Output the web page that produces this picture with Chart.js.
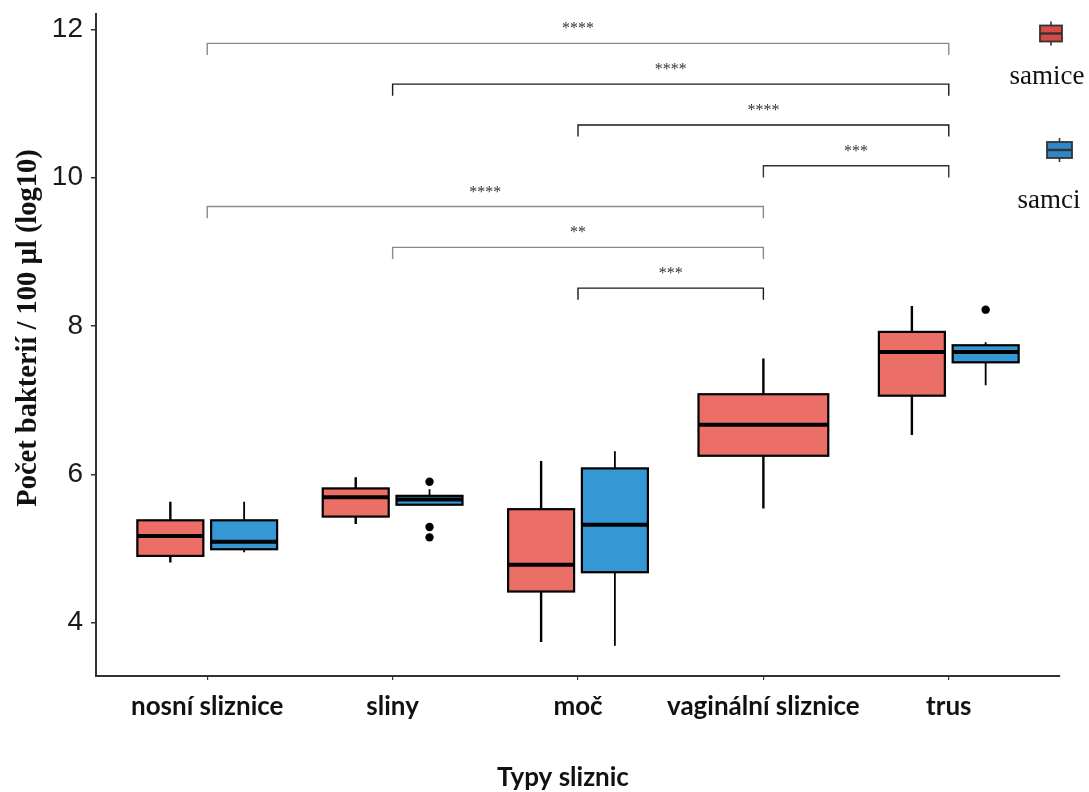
<!DOCTYPE html>
<html><head><meta charset="utf-8">
<script src="https://cdn.jsdelivr.net/npm/chart.js@4.4.1/dist/chart.umd.min.js"></script>
<style>html,body{margin:0;padding:0;background:#fff;}#wrap{width:1089px;height:792px;position:relative;}</style>
</head><body><div id="wrap"><canvas id="c"></canvas></div>
<script>
const categories = ['nosní sliznice', 'sliny', 'moč', 'vaginální sliznice', 'trus'];
const groups = ['samice', 'samci'];
// [lower whisker, Q1, median, Q3, upper whisker]
const samiceBoxes = [
  [4.81, 4.90, 5.17, 5.38, 5.63],
  [5.33, 5.43, 5.69, 5.81, 5.96],
  [3.74, 4.42, 4.78, 5.53, 6.18],
  [5.54, 6.25, 6.67, 7.08, 7.56],
  [6.53, 7.06, 7.65, 7.92, 8.27]
];
const samciBoxes = [
  [4.95, 4.99, 5.09, 5.38, 5.63],
  [5.59, 5.59, 5.66, 5.71, 5.80],
  [3.69, 4.68, 5.32, 6.08, 6.31],
  null,
  [7.20, 7.51, 7.65, 7.74, 7.78]
];
const samiceOutliers = [[], [], [], [], []];
const samciOutliers = [[], [5.90, 5.29, 5.15], [], [], [8.22]];
const yTicks = [4, 6, 8, 10, 12];
const comparisons = [[0, 4], [1, 4], [2, 4], [3, 4], [0, 3], [1, 3], [2, 3]];
const compLabels = ['****', '****', '****', '***', '****', '**', '***'];
const compY = [11.81, 11.26, 10.71, 10.16, 9.61, 9.06, 8.51];

const boxSets = [samiceBoxes, samciBoxes];
const outlierSets = [samiceOutliers, samciOutliers];
const FILL = ['#EB6E67', '#3598D4'];
const DODGE = 0.199, HALF_PAIR = 0.178, HALF_SINGLE = 0.35;

function boxPos(ci, gi) {
  const both = samiceBoxes[ci] && samciBoxes[ci];
  if (!both) return { c: ci, h: HALF_SINGLE };
  return { c: ci + (gi === 0 ? -DODGE : DODGE), h: HALF_PAIR };
}

const datasets = groups.map((g, gi) => ({
  label: g,
  data: outlierSets[gi].flatMap((arr, ci) => arr.map(v => ({ x: boxPos(ci, gi).c, y: v }))),
  pointRadius: 4.2,
  pointHoverRadius: 4.2,
  backgroundColor: '#000',
  borderWidth: 0
}));

const boxPlugin = {
  id: 'boxes',
  beforeDatasetsDraw(chart) {
    const { ctx, scales: { x, y } } = chart;
    ctx.save();
    boxSets.forEach((set, gi) => {
      set.forEach((b, ci) => {
        if (!b) return;
        const p = boxPos(ci, gi);
        const xl = x.getPixelForValue(p.c - p.h), xr = x.getPixelForValue(p.c + p.h), xc = x.getPixelForValue(p.c);
        const [lo, q1, md, q3, hi] = b.map(v => y.getPixelForValue(v));
        ctx.strokeStyle = '#000';
        ctx.lineWidth = gi === 0 ? 2.4 : 1.8;
        ctx.beginPath();
        ctx.moveTo(xc, lo); ctx.lineTo(xc, q1);
        ctx.moveTo(xc, q3); ctx.lineTo(xc, hi);
        ctx.stroke();
        ctx.fillStyle = FILL[gi];
        ctx.fillRect(xl, q3, xr - xl, q1 - q3);
        ctx.lineWidth = 2.2;
        ctx.strokeRect(xl, q3, xr - xl, q1 - q3);
        ctx.lineWidth = 4;
        ctx.beginPath();
        ctx.moveTo(xl, md); ctx.lineTo(xr, md);
        ctx.stroke();
      });
    });
    ctx.restore();
  },
  afterDraw(chart) {
    const { ctx, scales: { x, y } } = chart;
    ctx.save();
    // significance brackets
    const bracketColors = ['#8a8a8a', '#1a1a1a', '#1a1a1a', '#333', '#8a8a8a', '#8a8a8a', '#1a1a1a'];
    comparisons.forEach((pair, i) => {
      const x1 = x.getPixelForValue(pair[0]), x2 = x.getPixelForValue(pair[1]);
      const yb = y.getPixelForValue(compY[i]);
      const yt = y.getPixelForValue(compY[i] - 0.157);
      ctx.strokeStyle = bracketColors[i];
      ctx.lineWidth = 1.4;
      ctx.beginPath();
      ctx.moveTo(x1, yt); ctx.lineTo(x1, yb); ctx.lineTo(x2, yb); ctx.lineTo(x2, yt);
      ctx.stroke();
      ctx.fillStyle = '#333';
      ctx.font = '16px "Liberation Serif", serif';
      ctx.textAlign = 'center';
      ctx.textBaseline = 'alphabetic';
      ctx.fillText(compLabels[i], (x1 + x2) / 2, yb - 10);
    });
    // legend
    const legendItems = [
      { cx: 1051, cy: 33.5, w: 22, h: 16, fill: '#D84A4A', tx: 1047, ty: 77, text: groups[0] },
      { cx: 1059.5, cy: 150, w: 25, h: 16, fill: '#2F86C8', tx: 1049, ty: 201, text: groups[1] }
    ];
    legendItems.forEach(it => {
      ctx.strokeStyle = '#333';
      ctx.lineWidth = 1.6;
      ctx.beginPath();
      ctx.moveTo(it.cx, it.cy - it.h / 2 - 4); ctx.lineTo(it.cx, it.cy + it.h / 2 + 4);
      ctx.stroke();
      ctx.fillStyle = it.fill;
      ctx.fillRect(it.cx - it.w / 2, it.cy - it.h / 2, it.w, it.h);
      ctx.lineWidth = 1.8;
      ctx.strokeRect(it.cx - it.w / 2, it.cy - it.h / 2, it.w, it.h);
      ctx.lineWidth = 2.4;
      ctx.beginPath();
      ctx.moveTo(it.cx - it.w / 2, it.cy); ctx.lineTo(it.cx + it.w / 2, it.cy);
      ctx.stroke();
      ctx.fillStyle = '#111';
      ctx.font = '27px "Liberation Serif", serif';
      ctx.textAlign = 'center';
      ctx.textBaseline = 'middle';
      ctx.fillText(it.text, it.tx, it.ty);
    });
    // axis titles
    ctx.fillStyle = '#111';
    ctx.font = 'bold 28.5px "Liberation Serif", serif';
    ctx.textAlign = 'center';
    ctx.textBaseline = 'middle';
    ctx.save();
    ctx.translate(28.5, 328);
    ctx.rotate(-Math.PI / 2);
    ctx.fillText('Počet bakterií / 100 µl (log10)', 0, 0);
    ctx.restore();
    ctx.font = 'bold 26px Lato, sans-serif';
    ctx.fillText('Typy sliznic', 563, 778);
    ctx.restore();
  }
};

new Chart(document.getElementById('c'), {
  type: 'scatter',
  data: { datasets },
  plugins: [boxPlugin],
  options: {
    responsive: true,
    maintainAspectRatio: false,
    animation: false,
    events: [],
    layout: { padding: { top: 14, right: 29, bottom: 0, left: 0 } },
    plugins: { legend: { display: false }, tooltip: { enabled: false } },
    scales: {
      x: {
        type: 'linear', min: -0.6, max: 4.6,
        afterBuildTicks: s => { s.ticks = categories.map((_, i) => ({ value: i })); },
        afterFit: s => { s.height = 116; s.paddingLeft = 0; s.paddingRight = 0; },
        ticks: { callback: v => categories[v], font: { family: 'Lato', weight: 'bold', size: 26 }, color: '#111', padding: 11, maxRotation: 0, autoSkip: false },
        grid: { drawOnChartArea: false, drawTicks: true, tickLength: 4, color: '#333', lineWidth: 1.2 },
        border: { display: true, color: '#333', width: 2 }
      },
      y: {
        type: 'linear', min: 3.281, max: 12.206,
        afterBuildTicks: s => { s.ticks = yTicks.map(v => ({ value: v })); },
        afterFit: s => { s.width = 96; s.paddingTop = 0; s.paddingBottom = 0; },
        ticks: { font: { family: '"Liberation Sans", Arial, sans-serif', size: 28 }, color: '#1a1a1a', padding: 8 },
        grid: { drawOnChartArea: false, drawTicks: true, tickLength: 5, color: '#333', lineWidth: 1.5 },
        border: { display: true, color: '#333', width: 2 }
      }
    }
  }
});
</script></body></html>
